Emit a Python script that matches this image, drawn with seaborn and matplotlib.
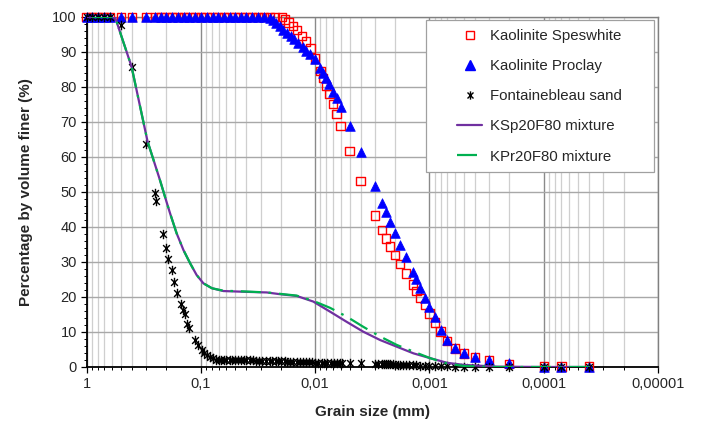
import matplotlib
matplotlib.use("Agg")
import matplotlib.pyplot as plt
from matplotlib.path import Path
from matplotlib.lines import Line2D
from matplotlib.patches import Rectangle
from matplotlib.ticker import FixedLocator, FixedFormatter, LogLocator, NullFormatter, MultipleLocator
import pandas as pd
import seaborn as sns

# ---------------- data ----------------
top_d = [1.0, 0.9, 0.8, 0.71, 0.63, 0.5, 0.4, 0.3, 0.25, 0.224, 0.2, 0.178, 0.16, 0.141,
         0.126, 0.112, 0.1, 0.089, 0.079, 0.071, 0.063, 0.056, 0.05, 0.045, 0.04, 0.0355,
         0.0315, 0.028]
top_y = [100] * 28

ksp_d_tail = [0.025, 0.0224, 0.0196, 0.0183, 0.0171, 0.0157, 0.0145, 0.013, 0.012, 0.011,
              0.010, 0.009, 0.0085, 0.008, 0.0075, 0.007, 0.0065, 0.006, 0.005, 0.004, 0.003,
              0.0026, 0.0024, 0.0022, 0.002, 0.0018, 0.0016, 0.0014, 0.0013, 0.0012, 0.0011,
              0.001, 0.0009, 0.0008, 0.0007, 0.0006, 0.0005, 0.0004, 0.0003, 0.0002, 0.0001,
              0.00007, 0.00004]
ksp_y_tail = [100, 100, 100, 99.3, 98.4, 97.4, 96.2, 94.6, 93, 91, 88.1, 84.6, 82.5, 80.3,
              78, 75.1, 72.2, 68.9, 61.8, 53.1, 43.3, 39.2, 36.7, 34.4, 32, 29.4, 26.7, 23.6,
              21.7, 19.8, 17.7, 15.3, 12.7, 10.1, 7.4, 5.3, 3.9, 2.9, 2.0, 0.9, 0.1, 0.1, 0.1]

kpr_d_tail = [0.025, 0.0232, 0.022, 0.0205, 0.019, 0.0175, 0.0163, 0.0153, 0.014, 0.0128,
              0.012, 0.011, 0.010, 0.009, 0.0085, 0.008, 0.0075, 0.007, 0.0065, 0.006, 0.005,
              0.004, 0.003, 0.0026, 0.0024, 0.0022, 0.002, 0.0018, 0.0016, 0.0014, 0.0013,
              0.0012, 0.0011, 0.001, 0.0009, 0.0008, 0.0007, 0.0006, 0.0005, 0.0004, 0.0003,
              0.0002, 0.0001, 0.00007, 0.00004]
kpr_y_tail = [99.6, 99.2, 98.3, 97.3, 96.4, 95.4, 94.5, 93.6, 92.6, 91.4, 90.4, 89.3, 87.9,
              85.3, 83.9, 82.5, 80.9, 78.7, 76.8, 74.4, 68.9, 61.5, 51.7, 46.9, 44.4, 41.5,
              38.4, 34.9, 31.3, 27.2, 25.1, 22.5, 19.8, 17.1, 14.4, 10.6, 7.7, 5.5, 3.9, 2.9,
              2.0, 1.0, 0.1, 0.1, 0.1]

fb_d = [1.0, 0.9, 0.8, 0.71, 0.63, 0.5, 0.4, 0.3, 0.25, 0.245, 0.213, 0.202, 0.193, 0.18,
        0.171, 0.162, 0.15, 0.144, 0.139, 0.131, 0.126, 0.112, 0.105, 0.098, 0.094, 0.089,
        0.083, 0.078, 0.073,
        0.07, 0.066, 0.063, 0.06, 0.056, 0.053, 0.05, 0.047, 0.045, 0.042, 0.04, 0.037,
        0.035, 0.033, 0.031, 0.029, 0.027, 0.025, 0.024, 0.022, 0.021, 0.02, 0.0185, 0.0175,
        0.0165, 0.0155, 0.0145, 0.0135, 0.0127, 0.012, 0.0113, 0.0106, 0.01, 0.0094, 0.0088,
        0.0083, 0.0078, 0.0073, 0.0069, 0.0065, 0.0061, 0.0058,
        0.005, 0.004, 0.003, 0.0028, 0.0026, 0.0025, 0.0024, 0.0023, 0.0022, 0.0021, 0.002,
        0.0019, 0.0018, 0.0017, 0.0016, 0.0015, 0.0014, 0.0013, 0.0012, 0.0011, 0.001,
        0.0009, 0.0008, 0.0007, 0.0006, 0.0005, 0.0004, 0.0003, 0.0002, 0.0001, 0.00007,
        0.00004]
fb_y = [100, 100, 100, 100, 100, 97.7, 85.8, 63.6, 49.8, 47.4, 38, 34.1, 30.8, 27.7, 24.4,
        21.1, 17.9, 16.3, 15.0, 12.3, 11.1, 7.7, 6.3, 4.9, 4.1, 3.4, 2.9, 2.5, 2.0,
        2.0, 2.0, 2.0, 2.0, 2.0, 2.0, 2.0, 1.95, 1.95, 1.95, 1.9, 1.9, 1.9, 1.85, 1.85, 1.8,
        1.8, 1.75, 1.7, 1.7, 1.65, 1.6, 1.6, 1.55, 1.5, 1.5, 1.45, 1.4, 1.4, 1.35, 1.3, 1.3,
        1.25, 1.2, 1.2, 1.15, 1.15, 1.1, 1.1, 1.05, 1.05, 1.0,
        1.0, 1.0, 0.95, 0.9, 0.85, 0.85, 0.8, 0.8, 0.75, 0.75, 0.7, 0.7, 0.65, 0.6, 0.6,
        0.55, 0.5, 0.45, 0.4, 0.35, 0.3, 0.25, 0.2, 0.15, 0.1, 0.1, 0.05, 0.05, 0.0, 0.0,
        0.0, 0.0]

mix_d = [1.0, 0.564, 0.404, 0.293, 0.228, 0.202, 0.186, 0.163, 0.142, 0.124, 0.109, 0.095,
         0.080, 0.0635, 0.0424, 0.0265, 0.0203, 0.0145, 0.0104, 0.0074, 0.0053, 0.0038,
         0.0027, 0.00193, 0.00138, 0.00098, 0.0007, 0.0005, 0.000256, 0.0001, 0.00004]
ksp_mix = [100, 100, 85.8, 64.5, 53.4, 47.7, 43.9, 38.2, 33.4, 29.6, 26.3, 23.9, 22.5, 21.7,
           21.5, 21.3, 20.8, 20.3, 18.7, 15.8, 12.9, 10.1, 7.7, 5.8, 3.9, 2.5, 1.2, 0.6, 0.1,
           0.0, 0.0]
kpr_mix = [100, 100, 85.8, 64.5, 53.4, 47.7, 43.9, 38.2, 33.4, 29.6, 26.3, 23.9, 22.5, 21.8,
           21.6, 21.3, 20.9, 20.4, 18.9, 16.9, 14.4, 11.5, 8.7, 6.3, 4.4, 2.5, 1.0, 0.3, 0.0,
           0.0, 0.0]

series_labels = ["Kaolinite Speswhite", "Kaolinite Proclay", "Fontainebleau sand",
                 "KSp20F80 mixture", "KPr20F80 mixture"]
x_ticks = [1, 0.1, 0.01, 0.001, 0.0001, 0.00001]
x_tick_labels = ["1", "0,1", "0,01", "0,001", "0,0001", "0,00001"]

# ---------------- frames ----------------
ksp = pd.DataFrame({"d": top_d + ksp_d_tail, "p": top_y + ksp_y_tail})
kpr = pd.DataFrame({"d": top_d + kpr_d_tail, "p": top_y + kpr_y_tail})
fb = pd.DataFrame({"d": fb_d, "p": fb_y})
mix = pd.DataFrame({"d": mix_d, "ksp": ksp_mix, "kpr": kpr_mix})

# ---------------- style ----------------
sns.set_theme(style="ticks")
plt.rcParams["font.family"] = ["Liberation Sans", "DejaVu Sans"]

fig = plt.figure(figsize=(7.08, 4.26), dpi=100)
ax = fig.add_axes([0.1223, 0.1385, 0.8071, 0.8216])

star = Path([(0, -1), (0, 1), (-0.72, -0.72), (0.72, 0.72), (-0.72, 0.72), (0.72, -0.72)],
            [Path.MOVETO, Path.LINETO, Path.MOVETO, Path.LINETO, Path.MOVETO, Path.LINETO])

sns.scatterplot(data=ksp, x="d", y="p", ax=ax, marker="s", s=36, color="red",
                facecolor="none", edgecolor="red", linewidth=1.0, zorder=3, clip_on=False)
sns.scatterplot(data=kpr, x="d", y="p", ax=ax, marker="^", s=48, color="#0000FF",
                edgecolor="#0000FF", linewidth=0.5, zorder=4, clip_on=False)
sns.scatterplot(data=fb, x="d", y="p", ax=ax, marker=star, s=46, color="black",
                edgecolor="black", linewidth=1.0, zorder=5, clip_on=False)
sns.lineplot(data=mix, x="d", y="ksp", ax=ax, color="#7030A0", linewidth=1.6,
             estimator=None, sort=True, zorder=6)
sns.lineplot(data=mix, x="d", y="kpr", ax=ax, color="#00B050", linewidth=1.6,
             estimator=None, sort=True, zorder=7, dashes=False,
             linestyle=(0, (9, 3.5, 1.2, 3.5)))

ax.set_xscale("log")
ax.set_xlim(1, 1e-5)
ax.set_ylim(0, 100)
ax.xaxis.set_major_locator(FixedLocator(x_ticks))
ax.xaxis.set_major_formatter(FixedFormatter(x_tick_labels))
ax.xaxis.set_minor_locator(LogLocator(base=10, subs=[2, 3, 4, 5, 6, 7, 8, 9], numticks=20))
ax.xaxis.set_minor_formatter(NullFormatter())
ax.yaxis.set_major_locator(MultipleLocator(10))
ax.yaxis.set_minor_locator(MultipleLocator(2))

ax.grid(which="major", axis="x", color="#8a8a8a", linewidth=1.0, zorder=0)
ax.grid(which="minor", axis="x", color="#cfcfcf", linewidth=0.9, zorder=0)
ax.grid(which="major", axis="y", color="#a8a8a8", linewidth=1.0, zorder=0)
ax.set_axisbelow(True)

ax.tick_params(axis="both", which="major", direction="out", length=4, width=0.9,
               color="black", labelsize=10.5, pad=3)
ax.tick_params(axis="both", which="minor", direction="out", length=2.5, width=0.7,
               color="black")
ax.tick_params(axis="x", which="major", pad=3)

for side in ["left", "bottom"]:
    ax.spines[side].set_color("black")
    ax.spines[side].set_linewidth(1.3)
for side in ["top", "right"]:
    ax.spines[side].set_color("#808080")
    ax.spines[side].set_linewidth(1.0)

ax.set_xlabel("Grain size (mm)", fontsize=11, fontweight="bold", labelpad=10)
ax.set_ylabel("Percentage by volume finer (%)", fontsize=11, fontweight="bold", labelpad=14)

# legend box (frame drawn separately so it can carry the wide side padding)
box = Rectangle((0.594, 0.557), 0.399, 0.434, transform=ax.transAxes, facecolor="white",
                edgecolor="#a0a0a0", linewidth=0.9, zorder=9, clip_on=False)
ax.add_patch(box)

handles = [
    Line2D([], [], ls="", marker="s", ms=6, mfc="none", mec="red", mew=1.0),
    Line2D([], [], ls="", marker="^", ms=6.5, mfc="#0000FF", mec="#0000FF"),
    Line2D([], [], ls="", marker=star, ms=6, color="black", mew=1.0),
    Line2D([], [], color="#7030A0", lw=1.6),
    Line2D([], [], color="#00B050", lw=1.6, linestyle=(0, (9, 3.5, 1.2, 3.5))),
]
leg = ax.legend(handles, series_labels, loc="upper left", bbox_to_anchor=(0.648, 0.966),
                fontsize=10.8, frameon=False, handlelength=1.7, labelspacing=1.08,
                borderpad=0, handletextpad=0.5, borderaxespad=0)
leg.set_zorder(10)

fig.savefig("out.png", dpi=100)
